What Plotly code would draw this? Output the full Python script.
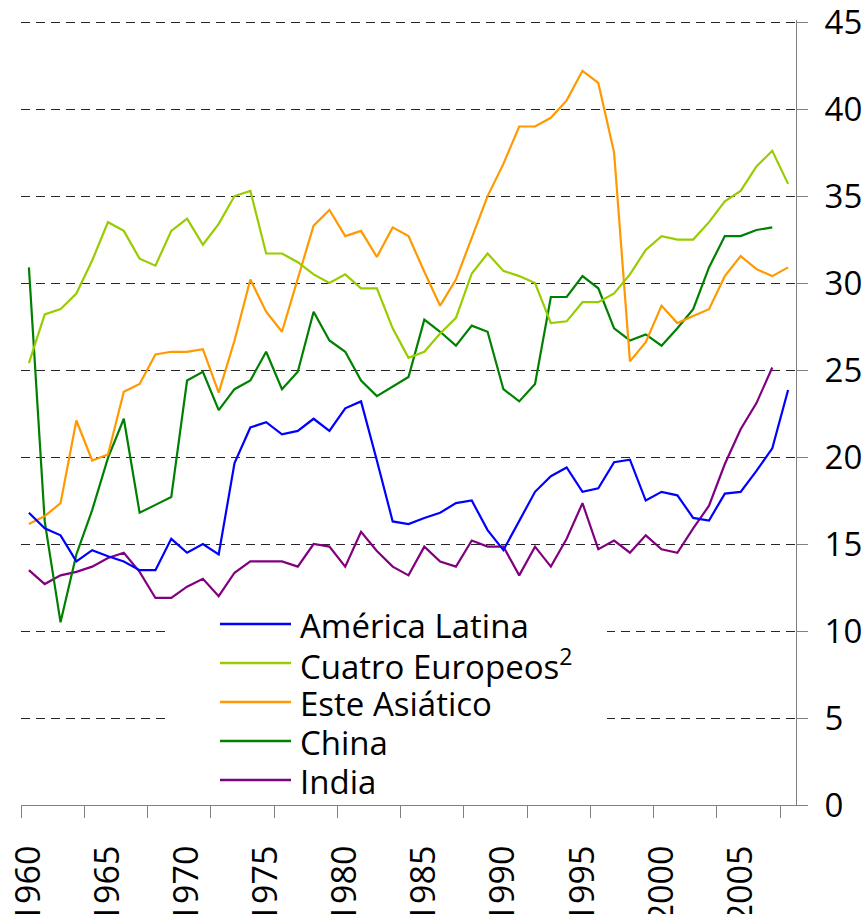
import plotly.graph_objects as go

years_full = list(range(1960, 2009))
years_short = list(range(1960, 2008))

america_latina = [16.8, 15.9, 15.5, 14.0, 14.65, 14.3, 14.0, 13.5, 13.5, 15.3,
                  14.5, 15.0, 14.4, 19.65, 21.7, 22.0, 21.3, 21.5, 22.2, 21.5,
                  22.8, 23.2, 19.8, 16.3, 16.15, 16.5, 16.8, 17.35, 17.5, 15.8,
                  14.65, 16.3, 18.0, 18.9, 19.4, 18.0, 18.2, 19.7, 19.85, 17.5,
                  18.0, 17.8, 16.5, 16.35, 17.9, 18.0, 19.2, 20.5, 23.85]

cuatro_europeos = [25.4, 28.2, 28.5, 29.4, 31.3, 33.5, 33.0, 31.4, 31.0, 33.0,
                   33.7, 32.2, 33.4, 35.0, 35.3, 31.7, 31.7, 31.2, 30.5, 30.0,
                   30.5, 29.7, 29.7, 27.4, 25.7, 26.05, 27.1, 28.0, 30.55, 31.7,
                   30.7, 30.4, 30.0, 27.7, 27.8, 28.9, 28.9, 29.4, 30.5, 31.9,
                   32.7, 32.5, 32.5, 33.5, 34.7, 35.3, 36.7, 37.6, 35.7]

este_asiatico = [16.15, 16.6, 17.35, 22.1, 19.8, 20.15, 23.75, 24.2, 25.9, 26.05,
                 26.05, 26.2, 23.7, 26.7, 30.2, 28.35, 27.2, 30.3, 33.3, 34.2,
                 32.7, 33.0, 31.5, 33.2, 32.7, 30.65, 28.7, 30.2, 32.6, 35.0,
                 36.85, 39.0, 39.0, 39.5, 40.5, 42.2, 41.5, 37.5, 25.5, 26.6,
                 28.7, 27.7, 28.1, 28.5, 30.4, 31.55, 30.8, 30.4, 30.9]

china = [30.9, 16.3, 10.5, 14.4, 16.95, 19.95, 22.2, 16.8, 17.25, 17.7,
         24.4, 24.9, 22.7, 23.9, 24.4, 26.05, 23.9, 24.9, 28.35, 26.7,
         26.05, 24.4, 23.5, 24.05, 24.6, 27.9, 27.2, 26.4, 27.55, 27.2,
         23.9, 23.2, 24.2, 29.2, 29.2, 30.4, 29.7, 27.4, 26.7, 27.05,
         26.4, 27.4, 28.5, 30.9, 32.7, 32.7, 33.05, 33.2]

india = [13.5, 12.7, 13.2, 13.4, 13.7, 14.2, 14.5, 13.4, 11.9, 11.9,
         12.55, 13.0, 12.0, 13.35, 14.0, 14.0, 14.0, 13.7, 15.0, 14.85,
         13.7, 15.7, 14.6, 13.7, 13.2, 14.85, 14.0, 13.7, 15.2, 14.85,
         14.85, 13.2, 14.85, 13.7, 15.3, 17.35, 14.7, 15.2, 14.5, 15.5,
         14.7, 14.5, 15.9, 17.2, 19.6, 21.6, 23.1, 25.15]

series_names = ["América Latina", "Cuatro Europeos<sup>2</sup>", "Este Asiático", "China", "India"]
series_colors = ["#0000FF", "#99CC00", "#FF9900", "#008000", "#800080"]
series_x = [years_full, years_full, years_full, years_short, years_short]
series_y = [america_latina, cuatro_europeos, este_asiatico, china, india]

x_label_years = [1960, 1965, 1970, 1975, 1980, 1985, 1990, 1995, 2000, 2005]
x_tick_marks = [1959.5 + 4 * k for k in range(13)]
y_ticks = [0, 5, 10, 15, 20, 25, 30, 35, 40, 45]

W, H = 867, 914
L, R, T, B = 21, 71, 20, 109
PW, PH = W - L - R, H - T - B
FONT = "Open Sans"

def px_x(p):
    return (p - L) / PW

def px_y(p):
    return (H - B - p) / PH

fig = go.Figure()
# draw order: India, China, Este, Cuatro, America (America on top)
for i in [4, 3, 2, 1, 0]:
    fig.add_trace(go.Scatter(x=series_x[i], y=series_y[i], mode="lines",
                             name=series_names[i],
                             line=dict(color=series_colors[i], width=2.2),
                             showlegend=False, hoverinfo="skip"))

shapes = []
annotations = []
# white legend box
shapes.append(dict(type="rect", xref="paper", yref="paper",
                   x0=px_x(168), x1=px_x(607), y0=px_y(800), y1=px_y(606),
                   fillcolor="white", line=dict(width=0), layer="above"))
for k, (nm, col) in enumerate(zip(series_names, series_colors)):
    yc = 624 + 39 * k
    shapes.append(dict(type="line", xref="paper", yref="paper",
                       x0=px_x(220), x1=px_x(291), y0=px_y(yc), y1=px_y(yc),
                       line=dict(color=col, width=2.5), layer="above"))
    annotations.append(dict(xref="paper", yref="paper", x=px_x(298), y=px_y(yc + 1),
                            xanchor="left", yanchor="middle", showarrow=False,
                            text=nm, font=dict(family=FONT, size=33, color="black")))

fig.update_layout(
    width=W, height=H,
    margin=dict(l=L, r=R, t=T, b=B, autoexpand=False),
    paper_bgcolor="white", plot_bgcolor="white",
    showlegend=False,
    shapes=shapes, annotations=annotations,
    xaxis=dict(range=[1959.5, 2008.5], tickmode="array", tickvals=x_label_years,
               ticktext=[str(v) for v in x_label_years], tickangle=-90,
               ticks="outside", ticklen=12, tickcolor="rgba(0,0,0,0)",
               ticklabelstandoff=14, ticklabeloverflow="allow",
               tickfont=dict(family=FONT, size=34, color="black"),
               showgrid=False, zeroline=False,
               showline=True, linecolor="#808080", linewidth=1,
               minor=dict(tickmode="array", tickvals=x_tick_marks, ticks="outside",
                          ticklen=12, tickcolor="#808080", tickwidth=1, showgrid=False),
               automargin=False),
    yaxis=dict(range=[0, 45.12], tickmode="array", tickvals=y_ticks,
               ticktext=[str(v) for v in y_ticks], side="right",
               ticks="outside", ticklen=11, tickcolor="#808080",
               ticklabelstandoff=10, ticklabeloverflow="allow",
               tickfont=dict(family=FONT, size=33, color="black"),
               showgrid=True, gridcolor="#262626", gridwidth=1, griddash="9px,6px",
               zeroline=False, showline=True, linecolor="#808080", linewidth=1,
               automargin=False),
)

fig.write_html("out.html", config={"displayModeBar": False},
               post_script="document.body.style.margin='0';document.body.style.overflow='hidden';")
